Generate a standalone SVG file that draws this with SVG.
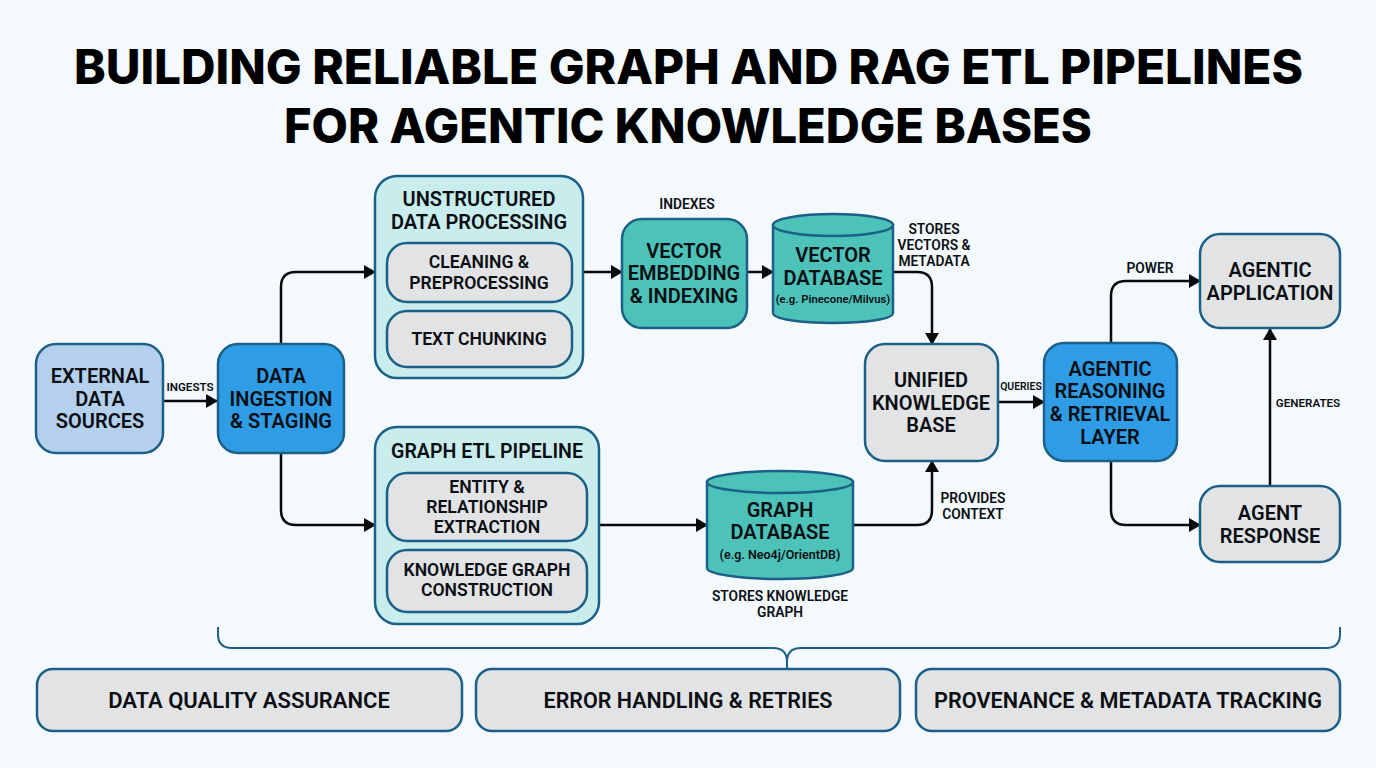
<svg xmlns="http://www.w3.org/2000/svg" width="1376" height="768" viewBox="0 0 1376 768">
<style>
text{font-family:"Roboto","Liberation Sans",sans-serif;font-weight:600;fill:#0b0f14;text-anchor:middle}
.t{font-family:"Inter","Liberation Sans",sans-serif;font-weight:800;font-size:47.5px;fill:#000}
.n{font-size:20px}
.s{font-size:17.6px}
.b{font-size:22px}
.e{font-size:12.5px}
.p{font-size:11.3px}
.l{font-size:13.8px}
.m{font-size:11.6px}
.q{font-size:10.4px}
.box{stroke:#1c6088;stroke-width:2.5}
.blue{fill:#2f9ce6}.pale{fill:#b5d0ed}.teal{fill:#4cc2b9}.grey{fill:#e2e3e5}.mint{fill:#c9eded}
.c{fill:none;stroke:#0a0a0a;stroke-width:2.5;marker-end:url(#a)}
</style>
<defs><marker id="a" markerUnits="userSpaceOnUse" markerWidth="12" markerHeight="14" refX="11" refY="7" orient="auto"><path d="M0 0L12 7L0 14Z" fill="#0a0a0a"/></marker></defs>
<rect width="1376" height="768" fill="#f4f9fd"/>
<g id="title"><text class="t" x="688.5" y="84" textLength="1229" lengthAdjust="spacingAndGlyphs">BUILDING RELIABLE GRAPH AND RAG ETL PIPELINES</text><text class="t" x="688" y="143" textLength="808" lengthAdjust="spacingAndGlyphs">FOR AGENTIC KNOWLEDGE BASES</text></g>
<g id="connectors">
<path class="c" d="M163 401H217"/>
<path class="c" d="M281 344V287Q281 272 296 272H375"/>
<path class="c" d="M281 453V510Q281 525 296 525H375"/>
<path class="c" d="M583 272H622"/>
<path class="c" d="M747 272H773"/>
<path class="c" d="M893 272H917Q932 272 932 287V344"/>
<path class="c" d="M599 525H707"/>
<path class="c" d="M853 525H917Q932 525 932 510V461"/>
<path class="c" d="M998 402H1044"/>
<path class="c" d="M1111 343V296Q1111 281 1126 281H1200"/>
<path class="c" d="M1111 461V510Q1111 525 1126 525H1200"/>
<path class="c" d="M1270 486V329"/>
<path d="M218 627V634Q218 648 232 648H773Q787 648 787 662V668M787 662Q787 648 801 648H1326Q1340 648 1340 634V627" fill="none" stroke="#1c6088" stroke-width="2"/>
</g>
<g id="edge-labels">
<text class="m" x="190" y="391">INGESTS</text>
<text class="l" x="687" y="208.500">INDEXES</text>
<text class="l" x="934" y="234">STORES</text><text class="l" x="934" y="250">VECTORS &amp;</text><text class="l" x="934" y="265.500">METADATA</text>
<text class="l" x="973" y="503">PROVIDES</text><text class="l" x="973" y="519">CONTEXT</text>
<text class="l" x="780" y="600.500">STORES KNOWLEDGE</text><text class="l" x="780" y="616.500">GRAPH</text>
<text class="q" x="1021" y="390">QUERIES</text>
<text class="l" x="1150" y="272.500">POWER</text>
<text class="m" x="1308" y="407">GENERATES</text>
</g>
<g id="external"><rect class="box pale" x="36" y="344" width="127" height="109" rx="20"/><text class="n" x="100" y="383">EXTERNAL</text><text class="n" x="100" y="406">DATA</text><text class="n" x="100" y="428">SOURCES</text></g>
<g id="ingestion"><rect class="box blue" x="218" y="344" width="126" height="109" rx="20"/><text class="n" x="281" y="383">DATA</text><text class="n" x="281" y="406">INGESTION</text><text class="n" x="281" y="428">&amp; STAGING</text></g>
<g id="unstructured"><rect class="box mint" x="375" y="176" width="208" height="202" rx="22"/><text class="n" x="479" y="206">UNSTRUCTURED</text><text class="n" x="479" y="229">DATA PROCESSING</text>
<rect class="box grey" x="387" y="243" width="185" height="59" rx="20"/><text class="s" x="479" y="268">CLEANING &amp;</text><text class="s" x="479" y="289">PREPROCESSING</text>
<rect class="box grey" x="387" y="311" width="185" height="56" rx="20"/><text class="s" x="479" y="345">TEXT CHUNKING</text></g>
<g id="graph-etl"><rect class="box mint" x="375" y="427" width="224" height="197" rx="22"/><text class="n" x="487" y="458" style="font-size:19.6px">GRAPH ETL PIPELINE</text>
<rect class="box grey" x="387" y="473" width="200" height="68" rx="20"/><text class="s" x="487" y="493">ENTITY &amp;</text><text class="s" x="487" y="513">RELATIONSHIP</text><text class="s" x="487" y="533">EXTRACTION</text>
<rect class="box grey" x="387" y="550" width="200" height="62" rx="20"/><text class="s" x="487" y="576">KNOWLEDGE GRAPH</text><text class="s" x="487" y="596">CONSTRUCTION</text></g>
<g id="embedding"><rect class="box teal" x="622" y="219" width="125" height="109" rx="20"/><text class="n" x="684" y="258">VECTOR</text><text class="n" x="684" y="280">EMBEDDING</text><text class="n" x="684" y="303">&amp; INDEXING</text></g>
<g id="vector-db"><path class="box teal" d="M773 225V313C773 319 800 323 833 323S893 319 893 313V225Z"/><ellipse class="box teal" cx="833" cy="225" rx="60" ry="11"/><text class="n" x="833" y="262">VECTOR</text><text class="n" x="833" y="285">DATABASE</text><text class="p" x="833" y="303">(e.g. Pinecone/Milvus)</text></g>
<g id="graph-db"><path class="box teal" d="M707 482V568C707 574 740 579 780 579S853 574 853 568V482Z"/><ellipse class="box teal" cx="780" cy="482" rx="73" ry="11"/><text class="n" x="780" y="517">GRAPH</text><text class="n" x="780" y="539">DATABASE</text><text class="e" x="780" y="559">(e.g. Neo4j/OrientDB)</text></g>
<g id="unified"><rect class="box grey" x="865" y="344" width="133" height="117" rx="20"/><text class="n" x="931" y="387">UNIFIED</text><text class="n" x="931" y="410">KNOWLEDGE</text><text class="n" x="931" y="432">BASE</text></g>
<g id="reasoning"><rect class="box blue" x="1044" y="343" width="133" height="118" rx="20"/><text class="n" x="1110" y="376">AGENTIC</text><text class="n" x="1110" y="398">REASONING</text><text class="n" x="1110" y="421">&amp; RETRIEVAL</text><text class="n" x="1110" y="444">LAYER</text></g>
<g id="application"><rect class="box grey" x="1200" y="234" width="140" height="94" rx="20"/><text class="n" x="1270" y="277">AGENTIC</text><text class="n" x="1270" y="300">APPLICATION</text></g>
<g id="response"><rect class="box grey" x="1200" y="486" width="140" height="76" rx="20"/><text class="n" x="1270" y="520">AGENT</text><text class="n" x="1270" y="543">RESPONSE</text></g>
<g id="quality"><rect class="box grey" x="37" y="669" width="425" height="62" rx="16"/><text class="b" x="249" y="708">DATA QUALITY ASSURANCE</text></g>
<g id="errors"><rect class="box grey" x="476" y="669" width="424" height="62" rx="16"/><text class="b" x="688" y="708" style="font-size:21.5px">ERROR HANDLING &amp; RETRIES</text></g>
<g id="provenance"><rect class="box grey" x="916" y="669" width="424" height="62" rx="16"/><text class="b" x="1128" y="708" style="font-size:21.7px">PROVENANCE &amp; METADATA TRACKING</text></g>
</svg>
